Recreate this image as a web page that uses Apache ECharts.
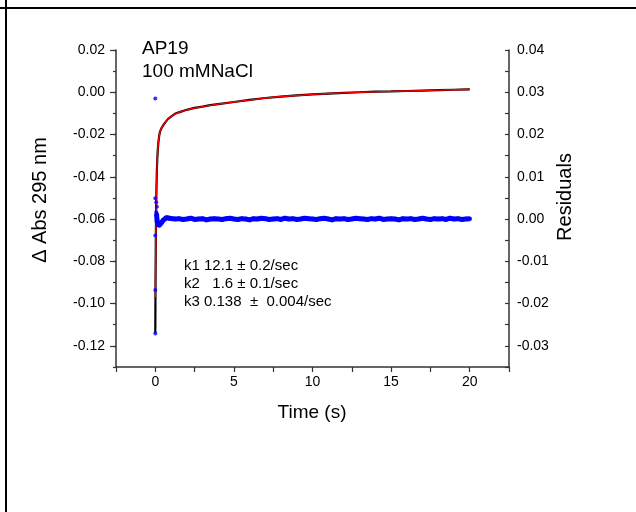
<!DOCTYPE html>
<html>
<head>
<meta charset="utf-8">
<script src="https://cdn.jsdelivr.net/npm/echarts@6/dist/echarts.min.js"></script>
<style>
html,body{margin:0;padding:0;background:#fff;}
#c{width:636px;height:512px;}
</style>
</head>
<body>
<div id="c"></div>
<script>
// ---- data ----
const dataT   = [0, 0.005, 0.01, 0.02, 0.03, 0.04, 0.05, 0.06, 0.08, 0.1, 0.13, 0.16, 0.2, 0.25, 0.3, 0.4, 0.5, 0.6, 0.8, 1.0, 1.25, 1.5, 2.0, 2.5, 3.0, 3.5, 4.0, 5.0, 6.0, 7.0, 8.0, 9.0, 10.0, 11.0, 12.0, 13.0, 14.0, 15.0, 16.0, 17.0, 18.0, 19.0, 20.0];
const dataAbs = [-0.114, -0.106, -0.097, -0.084, -0.073, -0.064, -0.057, -0.051, -0.043, -0.037, -0.031, -0.027, -0.0235, -0.0205, -0.0186, -0.0169, -0.0157, -0.0146, -0.0127, -0.0115, -0.0102, -0.0095, -0.0083, -0.0074, -0.0068, -0.0061, -0.0056, -0.0046, -0.0036, -0.0027, -0.0021, -0.0015, -0.0010, -0.0006, -0.0003, 0.0000, 0.0003, 0.0004, 0.0006, 0.0008, 0.0010, 0.0012, 0.0014];

const fitT   = [0, 0.02, 0.04, 0.06, 0.08, 0.1, 0.13, 0.16, 0.2, 0.25, 0.3, 0.4, 0.5, 0.6, 0.8, 1.0, 1.25, 1.5, 2, 2.5, 3, 3.5, 4, 5, 6, 7, 8, 9, 10, 11, 12, 13, 14, 15, 16, 17, 18, 19, 20];
const fitAbs = [-0.097, -0.080, -0.066, -0.054, -0.045, -0.038, -0.031, -0.027, -0.0235, -0.0206, -0.0186, -0.0168, -0.0157, -0.0146, -0.0128, -0.0115, -0.0103, -0.0095, -0.0083, -0.0075, -0.0068, -0.0062, -0.0056, -0.0046, -0.0037, -0.0027, -0.0020, -0.0015, -0.0010, -0.0006, -0.0003, 0.0000, 0.0002, 0.0004, 0.0006, 0.0008, 0.0010, 0.0012, 0.0014];

// isolated residual points at the very start
const resDotT = [0, 0, 0, 0, 0, 0.06, 0.1, 0.06];
const resDotV = [0.0285, 0.0049, -0.0039, -0.0168, -0.0271, 0.0040, 0.0029, 0.0017];

// residual band
const resT = [0.08, 0.12, 0.16, 0.2, 0.25, 0.3, 0.4, 0.5, 0.6, 0.7, 0.8, 0.9, 1.0,
  1.25, 1.5, 1.75, 2.0, 2.25, 2.5, 2.75, 3.0, 3.25, 3.5, 3.75, 4.0, 4.25, 4.5, 4.75, 5.0,
  5.25, 5.5, 5.75, 6.0, 6.25, 6.5, 6.75, 7.0, 7.25, 7.5, 7.75, 8.0, 8.25, 8.5, 8.75, 9.0,
  9.25, 9.5, 9.75, 10.0, 10.25, 10.5, 10.75, 11.0, 11.25, 11.5, 11.75, 12.0, 12.25, 12.5, 12.75, 13.0,
  13.25, 13.5, 13.75, 14.0, 14.25, 14.5, 14.75, 15.0, 15.25, 15.5, 15.75, 16.0, 16.25, 16.5, 16.75, 17.0,
  17.25, 17.5, 17.75, 18.0, 18.25, 18.5, 18.75, 19.0, 19.25, 19.5, 19.75, 20.0];
const resV = [0.0012, -0.0006, -0.0011, -0.0014, -0.0015, -0.0013, -0.0008, -0.0003, 0.0001, 0.0003, 0.0003, 0.0002, 0.0001,
  0.0000, 0.0001, -0.0001, 0.0000, 0.0002, -0.0001, 0.0000, 0.0001, -0.0002, 0.0000, 0.0001, 0.0000,
  -0.0001, 0.0001, 0.0002, 0.0000, -0.0001, 0.0001, 0.0000, -0.0002, 0.0001, 0.0000, 0.0002, 0.0001,
  -0.0001, 0.0000, 0.0001, -0.0001, 0.0002, 0.0000, 0.0001, -0.0001, 0.0000, 0.0002, 0.0001, 0.0000,
  -0.0001, 0.0001, 0.0002, 0.0000, -0.0002, 0.0001, 0.0000, 0.0001, -0.0001, 0.0000, 0.0002, 0.0001,
  0.0000, -0.0001, 0.0001, 0.0000, 0.0002, -0.0001, 0.0000, 0.0001, 0.0000, -0.0002, 0.0001, 0.0000,
  0.0001, -0.0001, 0.0000, 0.0002, 0.0000, -0.0001, 0.0001, 0.0000, 0.0001, -0.0001, 0.0002, 0.0000,
  0.0001, -0.0001, 0.0000, 0.0001];

const xTickLabels = [0, 5, 10, 15, 20];
const yLeftLabels = [-0.12, -0.10, -0.08, -0.06, -0.04, -0.02, 0.00, 0.02];
const yRightLabels = [-0.03, -0.02, -0.01, 0.00, 0.01, 0.02, 0.03, 0.04];
const annotations = ['AP19', '100 mMNaCl'];
const kLines = ['k1 12.1 \u00b1 0.2/sec', 'k2   1.6 \u00b1 0.1/sec', 'k3 0.138  \u00b1  0.004/sec'];

const zip = (a, b) => a.map((v, i) => [v, b[i]]);
const FONT = '"Liberation Sans", Arial, sans-serif';
const AX = '#333';

const chart = echarts.init(document.getElementById('c'), null, {renderer: 'canvas'});
chart.setOption({
  animation: false,
  backgroundColor: '#fff',
  grid: {left: 116, right: 127, top: 50, bottom: 145, containLabel: false},
  xAxis: {
    type: 'value', min: -2.5, max: 22.5, interval: 2.5,
    axisLine: {show: true, onZero: false, lineStyle: {color: AX, width: 1.5}},
    axisTick: {show: true, inside: false, length: 5, lineStyle: {color: AX, width: 1.2}},
    axisLabel: {
      fontFamily: FONT, fontSize: 14, color: '#000', margin: 8,
      formatter: v => xTickLabels.includes(v) ? String(v) : ''
    },
    splitLine: {show: false}
  },
  yAxis: [
    {
      type: 'value', position: 'left', min: -0.13, max: 0.02, interval: 0.01,
      axisLine: {show: true, onZero: false, lineStyle: {color: AX, width: 1.5}},
      axisTick: {show: true, inside: false, length: 3, lineStyle: {color: AX, width: 1.2}},
      axisLabel: {
        fontFamily: FONT, fontSize: 14, color: '#000', margin: 11,
        formatter: v => yLeftLabels.some(l => Math.abs(l - v) < 1e-9) ? v.toFixed(2) : ''
      },
      splitLine: {show: false}
    },
    {
      type: 'value', position: 'right', min: -0.035, max: 0.04, interval: 0.005,
      axisLine: {show: true, onZero: false, lineStyle: {color: AX, width: 1.5}},
      axisTick: {show: true, inside: true, length: 4, lineStyle: {color: AX, width: 1.2}},
      axisLabel: {
        fontFamily: FONT, fontSize: 14, color: '#000', margin: 8,
        formatter: v => yRightLabels.some(l => Math.abs(l - v) < 1e-9) ? v.toFixed(2) : ''
      },
      splitLine: {show: false}
    },
    {
      type: 'value', position: 'left', min: -0.13, max: 0.02,
      axisLine: {show: false, onZero: false},
      axisTick: {show: true, inside: false, length: 6, customValues: yLeftLabels, lineStyle: {color: AX, width: 1.2}},
      axisLabel: {show: false},
      splitLine: {show: false}
    }
  ],
  series: [
    {
      type: 'line', name: 'data', yAxisIndex: 0, data: zip(dataT, dataAbs),
      showSymbol: false, lineStyle: {color: '#000', width: 2.2}, z: 2
    },
    {
      type: 'line', name: 'fit', yAxisIndex: 0, data: zip(fitT, fitAbs),
      showSymbol: false, lineStyle: {color: '#ff0000', width: 1.4}, z: 3
    },
    {
      type: 'line', name: 'residual', yAxisIndex: 1, data: zip(resT, resV),
      symbol: 'circle', symbolSize: 4.5, showSymbol: true,
      itemStyle: {color: '#0000ff'}, lineStyle: {color: '#0000ff', width: 5}, z: 4
    },
    {
      type: 'scatter', name: 'residualStart', yAxisIndex: 1, data: zip(resDotT, resDotV),
      symbol: 'circle', symbolSize: 4, itemStyle: {color: '#0000ff'}, z: 5
    }
  ],
  graphic: [
    {type: 'rect', shape: {x: 0, y: 7, width: 636, height: 2}, style: {fill: '#000'}},
    {type: 'rect', shape: {x: 5, y: 0, width: 2, height: 512}, style: {fill: '#000'}},
    {type: 'text', x: 142, y: 49, style: {text: annotations[0], font: '19px ' + FONT, fill: '#000', textVerticalAlign: 'middle'}},
    {type: 'text', x: 142, y: 72, style: {text: annotations[1], font: '19px ' + FONT, fill: '#000', textVerticalAlign: 'middle'}},
    {type: 'text', x: 184, y: 266, style: {text: kLines[0], font: '15px ' + FONT, fill: '#000', textVerticalAlign: 'middle'}},
    {type: 'text', x: 184, y: 284, style: {text: kLines[1], font: '15px ' + FONT, fill: '#000', textVerticalAlign: 'middle'}},
    {type: 'text', x: 184, y: 302, style: {text: kLines[2], font: '15px ' + FONT, fill: '#000', textVerticalAlign: 'middle'}},
    {type: 'text', x: 312, y: 413, style: {text: 'Time (s)', font: '19px ' + FONT, fill: '#000', textAlign: 'center', textVerticalAlign: 'middle'}},
    {type: 'text', x: 40, y: 200, rotation: Math.PI / 2, style: {text: '\u0394 Abs 295 nm', font: '20px ' + FONT, fill: '#000', textAlign: 'center', textVerticalAlign: 'middle'}},
    {type: 'text', x: 565, y: 197, rotation: Math.PI / 2, style: {text: 'Residuals', font: '20px ' + FONT, fill: '#000', textAlign: 'center', textVerticalAlign: 'middle'}}
  ]
});
</script>
</body>
</html>
